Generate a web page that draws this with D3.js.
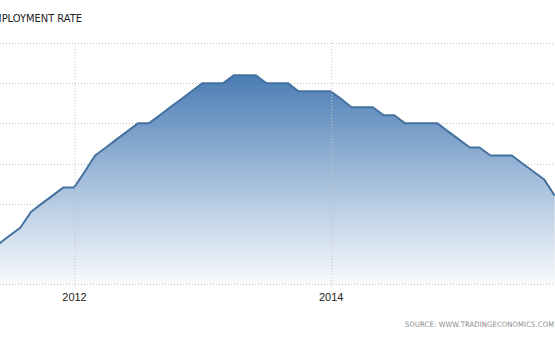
<!DOCTYPE html>
<html>
<head>
<meta charset="utf-8">
<script src="https://cdn.jsdelivr.net/npm/d3@7"></script>
<style>
  html, body { margin: 0; padding: 0; background: #fff; }
  svg { display: block; }
</style>
</head>
<body>
<div id="chart"></div>
<script>
// Euro area unemployment rate, monthly (%)
const months = [
  "2011-06","2011-07","2011-08","2011-09","2011-10","2011-11","2011-12",
  "2012-01","2012-02","2012-03","2012-04","2012-05","2012-06","2012-07","2012-08","2012-09","2012-10","2012-11","2012-12",
  "2013-01","2013-02","2013-03","2013-04","2013-05","2013-06","2013-07","2013-08","2013-09","2013-10","2013-11","2013-12",
  "2014-01","2014-02","2014-03","2014-04","2014-05","2014-06","2014-07","2014-08","2014-09","2014-10","2014-11","2014-12",
  "2015-01","2015-02","2015-03","2015-04","2015-05","2015-06","2015-07","2015-08","2015-09","2015-10"
];
const rates = [
  10.0,10.1,10.2,10.4,10.5,10.6,10.7,
  10.7,10.9,11.1,11.2,11.3,11.4,11.5,11.5,11.6,11.7,11.8,11.9,
  12.0,12.0,12.0,12.1,12.1,12.1,12.0,12.0,12.0,11.9,11.9,11.9,
  11.9,11.8,11.7,11.7,11.7,11.6,11.6,11.5,11.5,11.5,11.5,11.4,
  11.3,11.2,11.2,11.1,11.1,11.1,11.0,10.9,10.8,10.6
];
const yTicks = [9.5, 10.0, 10.5, 11.0, 11.5, 12.0, 12.5];
const xTickYears = ["2012", "2014"];
const titleText = "EURO AREA UNEMPLOYMENT RATE";
const sourceText = "SOURCE: WWW.TRADINGECONOMICS.COM";

const W = 555, H = 340;
const parse = d3.timeParse("%Y-%m");
const data = months.map((m, i) => ({ date: parse(m), value: rates[i] }));

const svg = d3.select("#chart").append("svg").attr("width", W).attr("height", H);

const x = d3.scaleTime()
  .domain([parse("2012-01"), parse("2014-01")])
  .range([74, 330.7]);
const y = d3.scaleLinear().domain([9.5, 12.5]).range([284, 43]);

const defs = svg.append("defs");
const grad = defs.append("linearGradient")
  .attr("id", "fillGrad").attr("gradientUnits", "userSpaceOnUse")
  .attr("x1", 0).attr("x2", 0).attr("y1", y(12.1)).attr("y2", y(9.5));
grad.append("stop").attr("offset", 0).attr("stop-color", "#4a7cb3");
grad.append("stop").attr("offset", 0.5).attr("stop-color", "#a3bedb");
grad.append("stop").attr("offset", 1).attr("stop-color", "#f8fafd");

svg.append("clipPath").attr("id", "clip").append("rect")
  .attr("x", 0).attr("y", 0).attr("width", W).attr("height", H);

// horizontal gridlines
svg.append("g").selectAll("line").data(yTicks).join("line")
  .attr("x1", 0).attr("x2", W)
  .attr("y1", d => Math.round(y(d)) + 0.5).attr("y2", d => Math.round(y(d)) + 0.5)
  .attr("stroke", "#c4c4c4").attr("stroke-width", 1).attr("stroke-dasharray", "1,2");

// area
const g = svg.append("g").attr("clip-path", "url(#clip)");
g.append("path").datum(data)
  .attr("d", d3.area().x(d => x(d.date)).y0(y(9.5)).y1(d => y(d.value)))
  .attr("fill", "url(#fillGrad)");

// x axis with vertical gridlines
const xAxis = d3.axisBottom(x)
  .tickValues(xTickYears.map(s => d3.timeParse("%Y")(s)))
  .tickFormat(d3.timeFormat("%Y"))
  .tickSize(0);
const ax = svg.append("g").attr("transform", `translate(0,${y(9.5)})`).call(xAxis);
ax.select(".domain").remove();
ax.selectAll(".tick line")
  .attr("y1", -(y(9.5) - y(12.5))).attr("y2", 5)
  .attr("stroke", "#c4c4c4").attr("stroke-dasharray", "1,2")
  .attr("transform", "translate(0.5,0)");
ax.selectAll(".tick text")
  .attr("y", 17).attr("dy", 0)
  .attr("fill", "#222").attr("font-size", "11px")
  .attr("font-family", "'Liberation Sans', Arial, sans-serif");

// line
g.append("path").datum(data)
  .attr("d", d3.line().x(d => x(d.date)).y(d => y(d.value)))
  .attr("fill", "none").attr("stroke", "#44719e").attr("stroke-width", 2)
  .attr("stroke-linejoin", "round");

// title (runs off the left edge, as in the reference)
svg.append("text")
  .attr("x", 82).attr("y", 21.5).attr("text-anchor", "end")
  .attr("font-family", "'DejaVu Sans Condensed', 'Liberation Sans', sans-serif")
  .attr("font-size", "11px").attr("fill", "#222")
  .text(titleText);

// source
svg.append("text")
  .attr("x", 554).attr("y", 327).attr("text-anchor", "end")
  .attr("font-family", "'DejaVu Sans Condensed', 'DejaVu Sans', sans-serif")
  .attr("font-size", "7.5px").attr("fill", "#8a8a8a")
  .attr("textLength", 149).attr("lengthAdjust", "spacing")
  .text(sourceText);
</script>
</body>
</html>
